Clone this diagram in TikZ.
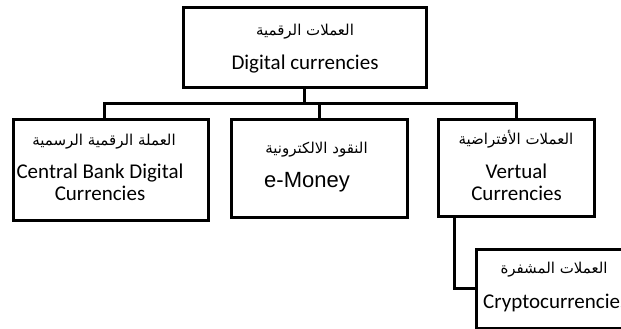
\documentclass[tikz,border=0pt]{standalone}
\usepackage{fontspec}
\setmainfont{Carlito}
\newfontfamily\arialfont{Liberation Sans}
\newfontfamily\arabicfont[Script=Arabic]{DejaVu Sans}
\TeXXeTstate=1
\begin{document}
\begin{tikzpicture}[x=1pt,y=-1pt,
  box/.style={draw=black,line width=3pt,rectangle,inner sep=0pt},
  wire/.style={draw=black,line width=3pt,line join=miter,line cap=rect},
  en/.style={font=\fontsize{21}{22}\selectfont,align=center,inner sep=0pt},
  ar/.style={font=\arabicfont\fontsize{15}{18}\selectfont,inner sep=0pt}]
\useasboundingbox (0,0) rectangle (621,329);
\clip (0,0) rectangle (621,329);
% boxes
\node[box,minimum width=242.5pt,minimum height=79pt]  (top) at (304.75,47.5) {};
\node[box,minimum width=194.5pt,minimum height=101pt] (b1) at (110.75,170) {};
\node[box,minimum width=176pt,minimum height=97.5pt]  (b2) at (319,168.25) {};
\node[box,minimum width=156pt,minimum height=96.5pt]  (b3) at (516,167.75) {};
\node[box,minimum width=173.5pt,minimum height=78.5pt] (b4) at (563.25,288.75) {};
% connectors
\coordinate (c1) at (104,103.5);
\coordinate (c3) at (516,103.5);
\coordinate (e) at (454,288.5);
\draw[wire] (top.south) -- (top.south |- c1);
\draw[wire] (c1 |- b1.north) -- (c1) -- (c3) -- (b3.north);
\draw[wire] (b2.north) -- (b2.north |- c1);
\draw[wire] (e |- b3.south) -- (e |- b4.west) -- (b4.west);
% labels
\node[ar] (t-ar) at (305,32) {\beginR العملات الرقمية\endR};
\node[en] (t-en) at (305,64) {Digital currencies};
\node[ar] (b1-ar) at (104,142) {\beginR العملة الرقمية الرسمية\endR};
\node[en] (b1-en) at (100,182) {Central Bank Digital\\Currencies};
\node[ar] (b2-ar) at (316.5,150) {\beginR النقود الالكترونية\endR};
\node[en,font=\arialfont\fontsize{22}{24}\selectfont] (b2-en) at (307,182) {e-Money};
\node[ar] (b3-ar) at (516,139) {\beginR العملات الأفتراضية\endR};
\node[en] (b3-en) at (516.5,182.5) {Vertual\\Currencies};
\node[ar] (b4-ar) at (554,270) {\beginR العملات المشفرة\endR};
\node[en,anchor=west] (b4-en) at (483,303) {Cryptocurrencies};
\end{tikzpicture}
\end{document}
